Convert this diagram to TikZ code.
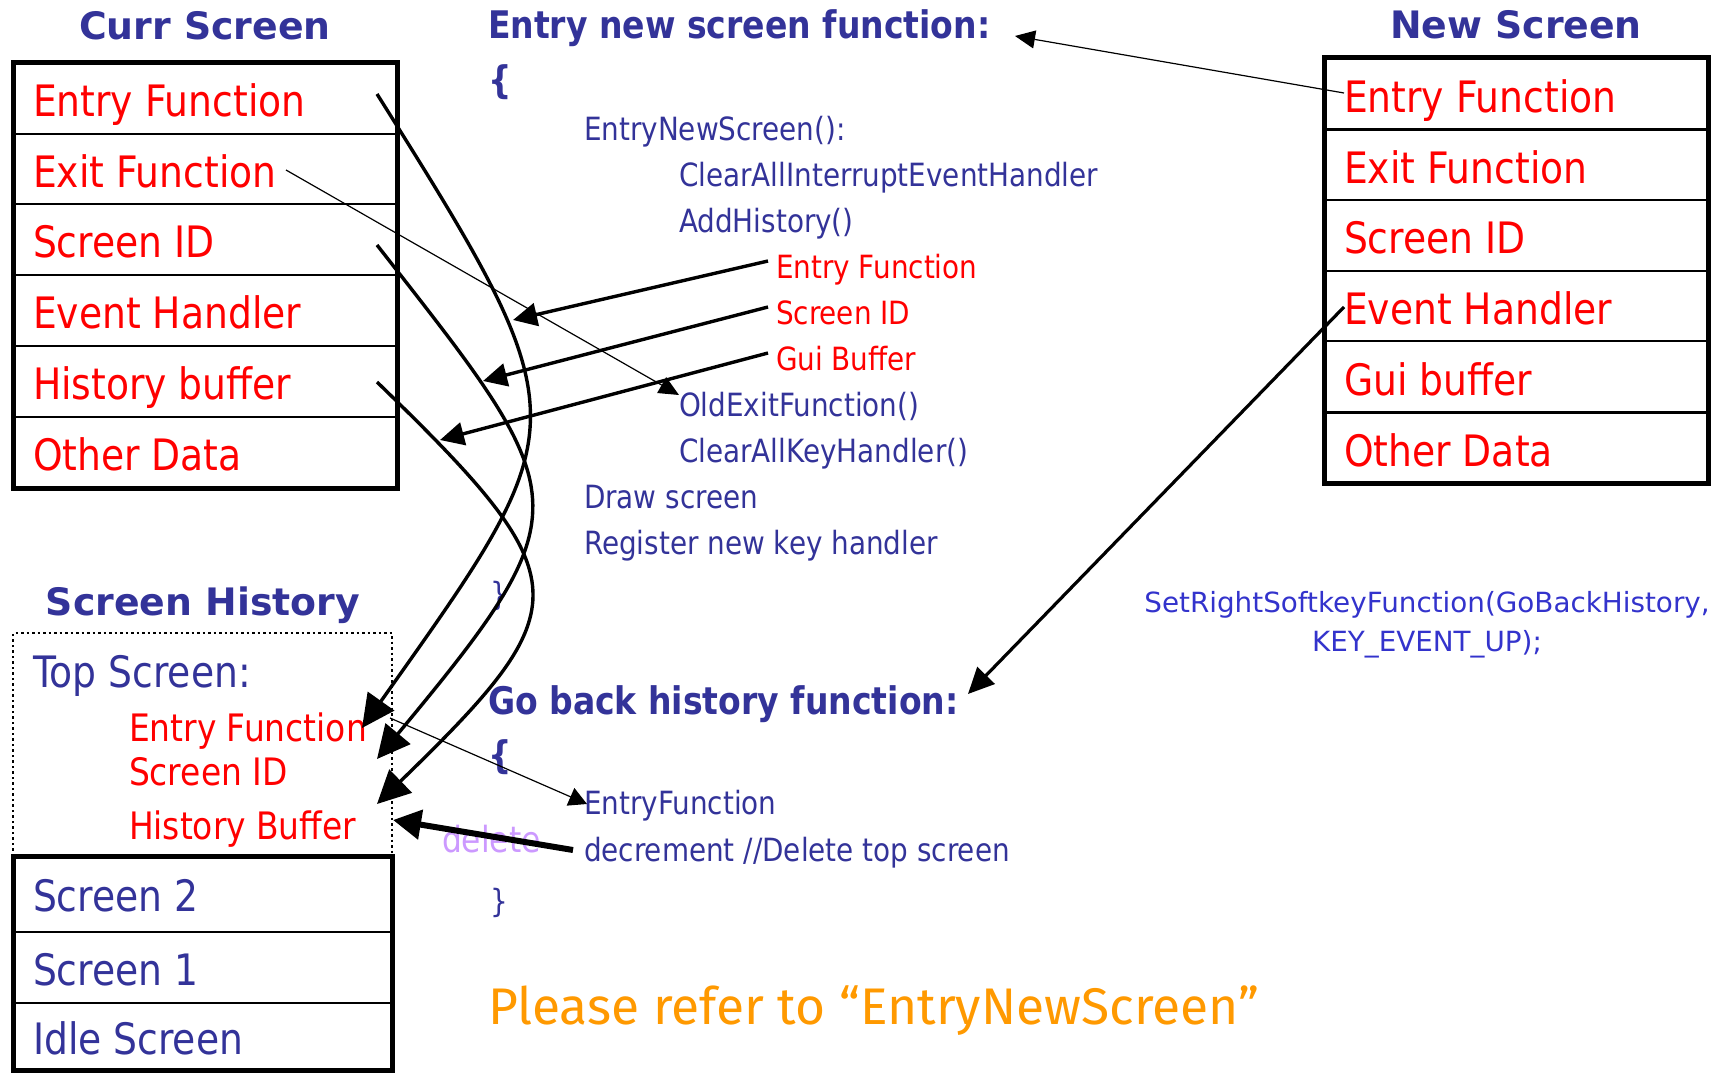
\documentclass[tikz,border=0pt]{standalone}
\usepackage{fontspec}
\usetikzlibrary{arrows.meta}
\setmainfont{DejaVu Sans}
\newfontfamily\tah[FakeStretch=0.87]{DejaVu Sans}
\newfontfamily\verd{DejaVu Sans}
\newfontfamily\hand{Fira Sans}

\definecolor{navy}{HTML}{333399}
\definecolor{brightblue}{HTML}{3333CC}
\definecolor{orangetxt}{HTML}{FF9900}
\definecolor{lilac}{HTML}{CC99FF}

\tikzset{
  txt/.style={anchor=base west, inner sep=0pt, outer sep=0pt},
  headline/.style={anchor=base, inner sep=0pt, text=navy,
    font=\verd\bfseries\fontsize{37.8}{44}\selectfont},
  fieldred/.style={txt, text=red, font=\tah\fontsize{43.3}{50}\selectfont},
  fieldblue/.style={txt, text=navy, font=\tah\fontsize{43.3}{50}\selectfont},
  topred/.style={txt, text=red, font=\tah\fontsize{37.8}{44}\selectfont},
  codehead/.style={txt, text=navy, font=\tah\bfseries\fontsize{38}{44}\selectfont},
  codeline/.style={txt, text=navy, font=\tah\fontsize{32}{38}\selectfont},
  codered/.style={txt, text=red, font=\tah\fontsize{32}{38}\selectfont},
  outerbox/.style={line width=5pt},
  rowline/.style={line width=2.5pt},
  thinarrow/.style={line width=1.2pt, -{Triangle[length=20pt,width=18pt]}},
  thickarrow/.style={line width=3.4pt, -{Triangle[length=24pt,width=23pt]}},
  curvearrow/.style={line width=3.4pt, -{Triangle[length=33pt,width=32pt]}},
}

\begin{document}
\begin{tikzpicture}[x=1pt, y=-1pt]
\useasboundingbox (0,0) rectangle (1720,1073);

% ---------- Curr Screen ----------
\node[headline] (currTitle) at (205,40) {Curr Screen};
\draw[rowline] (13,134) -- (397,134) (13,204) -- (397,204) (13,275) -- (397,275)
               (13,346) -- (397,346) (13,417) -- (397,417);
\draw[outerbox] (13,63) rectangle (397,488);
\node[fieldred] (cEntry) at (33,116.5) {Entry Function};
\node[fieldred] (cExit)  at (33,187)   {Exit Function};
\node[fieldred] (cSID)   at (33,257.5) {Screen ID};
\node[fieldred] (cEvt)   at (33,328.5) {Event Handler};
\node[fieldred] (cHist)  at (33,399.5) {History buffer};
\node[fieldred] (cOther) at (33,470.5) {Other Data};

% ---------- New Screen ----------
\node[headline] (newTitle) at (1516,39) {New Screen};
\draw[rowline] (1324,129.5) -- (1708,129.5) (1324,200) -- (1708,200) (1324,271) -- (1708,271)
               (1324,341) -- (1708,341) (1324,412.5) -- (1708,412.5);
\draw[outerbox] (1324,58) rectangle (1708,483);
\node[fieldred] (nEntry) at (1344,112)   {Entry Function};
\node[fieldred] (nExit)  at (1344,183)   {Exit Function};
\node[fieldred] (nSID)   at (1344,253.5) {Screen ID};
\node[fieldred] (nEvt)   at (1344,324)   {Event Handler};
\node[fieldred] (nGui)   at (1344,395)   {Gui buffer};
\node[fieldred] (nOther) at (1344,466)   {Other Data};

% ---------- Screen History ----------
\node[headline] (histTitle) at (203,615) {Screen History};
\draw[line width=2.5pt, dash pattern=on 2.5pt off 3pt] (13,856) -- (13,633) -- (392,633) -- (392,856);
\draw[rowline] (13,932) -- (392,932) (13,1003) -- (392,1003);
\draw[outerbox] (13,856) rectangle (392,1070);
\node[fieldblue] (hTop)  at (33,687)    {Top Screen:};
\node[topred]    (hEF)   at (129,741)   {Entry Function};
\node[topred]    (hSID)  at (129,785.5) {Screen ID};
\node[topred]    (hHB)   at (129,839)   {History Buffer};
\node[fieldblue] (hS2)   at (33,911.5)  {Screen 2};
\node[fieldblue] (hS1)   at (33,985)    {Screen 1};
\node[fieldblue] (hIdle) at (33,1054)   {Idle Screen};

% ---------- Entry new screen function ----------
\node[codehead] (entHead)  at (488,38)    {Entry new screen function:};
\node[codehead] (entOpen)  at (488,93)    {\{};
\node[codeline] (entCall)  at (584,140)   {EntryNewScreen():};
\node[codeline] (entClr)   at (679,186)   {ClearAllInterruptEventHandler};
\node[codeline] (entAdd)   at (679,232)   {AddHistory()};
\node[codered]  (entEF)    at (776,278)   {Entry Function};
\node[codered]  (entSID)   at (776,324)   {Screen ID};
\node[codered]  (entGui)   at (776,370)   {Gui Buffer};
\node[codeline] (entOld)   at (679,416)   {OldExitFunction()};
\node[codeline] (entKey)   at (679,462)   {ClearAllKeyHandler()};
\node[codeline] (entDraw)  at (584,508)   {Draw screen};
\node[codeline] (entReg)   at (584,554)   {Register new key handler};
\node[codeline] (entClose) at (490,605)   {\}};

% ---------- Go back history function ----------
\node[codehead] (gbHead)  at (488,714)   {Go back history function:};
\node[codehead] (gbOpen)  at (488,768)   {\{};
\node[codeline] (gbEntry) at (584,814)   {EntryFunction};
\node[codeline] (gbDec)   at (584,861)   {decrement //Delete top screen};
\node[codeline] (gbClose) at (490,912)   {\}};
\node[txt, text=lilac, font=\tah\fontsize{36}{42}\selectfont] (gbDel) at (442,852) {delete};

% ---------- soft key note ----------
\node[anchor=base, inner sep=0pt, text=brightblue, font=\verd\fontsize{27.8}{34}\selectfont]
  (softA) at (1427,612) {SetRightSoftkeyFunction(GoBackHistory,};
\node[anchor=base, inner sep=0pt, text=brightblue, font=\verd\fontsize{27.8}{34}\selectfont]
  (softB) at (1427,651) {KEY\_EVENT\_UP);};

\node[txt, text=orangetxt, font=\hand\fontsize{51.5}{60}\selectfont] (note) at (488,1024)
  {Please refer to “EntryNewScreen”};

% ---------- connector end points ----------
\coordinate (pNewEntry) at (1344,93);
\coordinate (pEntHead)  at (1015,36);
\coordinate (pNewEvt)   at (1344,307);
\coordinate (pGbHead)   at (968,694);
\coordinate (pCurExit)  at (286,170);
\coordinate (pOldExit)  at (679,395);
\coordinate (pEFsrc)    at (768,261);
\coordinate (pEFdst)    at (513,320);
\coordinate (pSIDsrc)   at (768,307);
\coordinate (pSIDdst)   at (483,381);
\coordinate (pGuisrc)   at (768,353);
\coordinate (pGuidst)   at (440,440);
\coordinate (pCurEntry) at (377,94);
\coordinate (pCurSID)   at (377,245);
\coordinate (pCurHist)  at (377,382);
\coordinate (pTopEF)    at (362,728);
\coordinate (pTopSID)   at (377,759);
\coordinate (pTopHB)    at (377,804);
\coordinate (pTopOut)   at (390,718);
\coordinate (pGbEntry)  at (587,804);
\coordinate (pDecSrc)   at (573,850);
\coordinate (pDecDst)   at (393,820);

% ---------- connectors ----------
\draw[thinarrow] (pNewEntry) -- (pEntHead);
\draw[line width=3.2pt, -{Triangle[length=26pt,width=24pt]}] (pNewEvt) -- (pGbHead);
\draw[thinarrow] (pCurExit) -- (pOldExit);
\draw[thickarrow] (pEFsrc) -- (pEFdst);
\draw[thickarrow] (pSIDsrc) -- (pSIDdst);
\draw[thickarrow] (pGuisrc) -- (pGuidst);
\draw[curvearrow] (pCurEntry) .. controls (584,423) and (578,423) .. (pTopEF);
\draw[curvearrow] (pCurSID) .. controls (575,498) and (587,506) .. (pTopSID);
\draw[curvearrow] (pCurHist) .. controls (581,580) and (581,606) .. (pTopHB);
\draw[line width=1.2pt, -{Triangle[length=18pt,width=19pt]}] (pTopOut) -- (pGbEntry);
\draw[line width=6pt, -{Triangle[length=28pt,width=29pt]}] (pDecSrc) -- (pDecDst);
\end{tikzpicture}
\end{document}
